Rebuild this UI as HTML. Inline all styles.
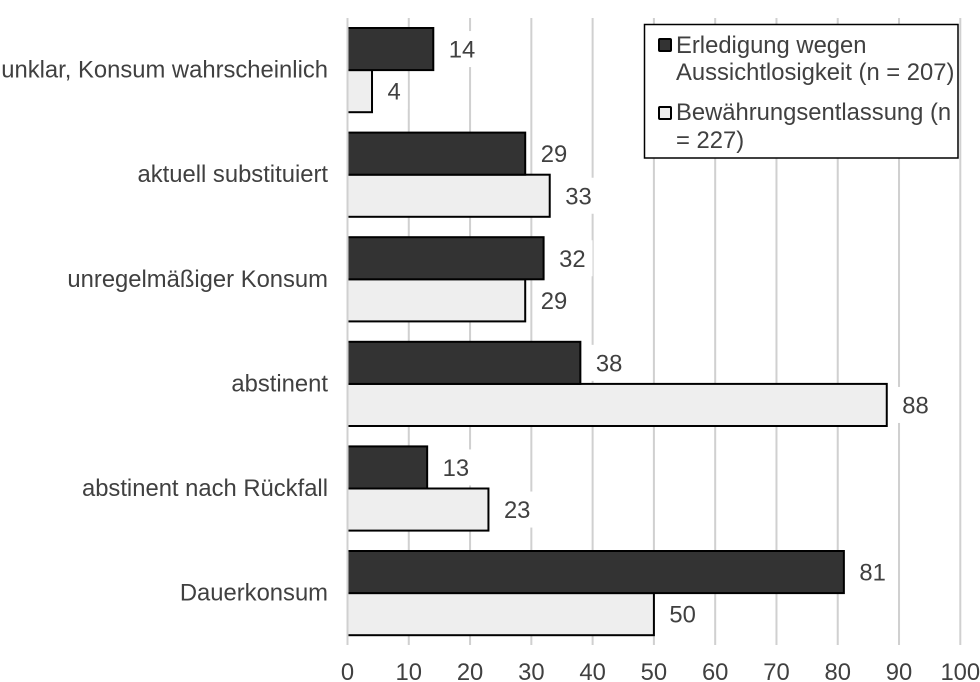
<!DOCTYPE html>
<html lang="de">
<head>
<meta charset="utf-8">
<title>Balkendiagramm</title>
<style>
html,body{margin:0;padding:0;background:#fff;}
svg{display:block;}
text{font-family:"Liberation Sans",Arial,sans-serif;font-size:23.8px;fill:#404040;}
</style>
</head>
<body>
<svg id="chart" width="980" height="682" viewBox="0 0 980 682">
  <g id="grid"></g>
  <g id="bars"></g>
  <g id="labels"></g>
  <g id="axis"></g>
  <g>
    <rect x="644.5" y="24.5" width="313.5" height="133.5" fill="#fff" stroke="#000" stroke-width="1.5"></rect>
    <rect x="659" y="39" width="12" height="12" rx="1" fill="#333" stroke="#000" stroke-width="2"></rect>
    <text x="676" y="53">Erledigung wegen</text>
    <text x="676" y="80">Aussichtlosigkeit (n = 207)</text>
    <rect x="659" y="107" width="12" height="12" rx="1" fill="#eee" stroke="#000" stroke-width="2"></rect>
    <text x="676" y="120">Bewährungsentlassung (n</text>
    <text x="676" y="148">= 227)</text>
  </g>
</svg>
<script>
const categories = ["unklar, Konsum wahrscheinlich", "aktuell substituiert", "unregelmäßiger Konsum", "abstinent", "abstinent nach Rückfall", "Dauerkonsum"];
const erledigungValues = [14, 29, 32, 38, 13, 81];
const bewaehrungValues = [4, 33, 29, 88, 23, 50];
const xTicks = [0, 10, 20, 30, 40, 50, 60, 70, 80, 90, 100];

const NS = "http://www.w3.org/2000/svg";
const xMin = xTicks[0];
const xMax = xTicks[xTicks.length - 1];
const plotLeft = 347.5;
const plotRight = 960.3;
const plotTop = 18;
const plotBottom = 645;
const bandTop = 28;
const bandStep = 104.6;
const barHeight = 42.1;

function xScale(v) {
  return plotLeft + (v - xMin) / (xMax - xMin) * (plotRight - plotLeft);
}
function bandY(i) {
  return bandTop + i * bandStep;
}
function make(parent, tag, attrs, text) {
  const el = document.createElementNS(NS, tag);
  for (const k in attrs) el.setAttribute(k, attrs[k]);
  if (text !== undefined) el.textContent = text;
  parent.appendChild(el);
  return el;
}

const gridG = document.getElementById("grid");
const barsG = document.getElementById("bars");
const labelsG = document.getElementById("labels");
const axisG = document.getElementById("axis");

xTicks.forEach(function (t) {
  const line = make(gridG, "line", {x1: xScale(t), x2: xScale(t), y1: plotTop, y2: plotBottom, stroke: "#d0d0d0", "stroke-width": 2});
  
  
  const label = make(axisG, "text", {x: xScale(t), y: 680, "text-anchor": "middle"}, String(t));
  
  
});

function drawBar(value, y, fill) {
  const bar = make(barsG, "rect", {x: xScale(0), y: y, width: xScale(value) - xScale(0), height: barHeight, fill: fill, stroke: "#000", "stroke-width": 2});
  
  
}
function drawValue(value, y) {
  const s = String(value);
  const w = s.length * 13.2;
  const left = xScale(value) + 15.5;
  const bg = make(labelsG, "rect", {x: left - 7, y: y + barHeight / 2 - 18, width: w + 14, height: 36, fill: "#fff"});
  
  
  const label = make(labelsG, "text", {x: left, y: y + barHeight / 2 + 8.5}, s);
  
  
}

categories.forEach(function (c, i) {
  const y = bandY(i);
  const cat = make(axisG, "text", {x: 328, y: y + barHeight + 7.5, "text-anchor": "end"}, c);
  
  
  drawValue(erledigungValues[i], y);
  drawValue(bewaehrungValues[i], y + barHeight);
});
categories.forEach(function (c, i) {
  const y = bandY(i);
  drawBar(bewaehrungValues[i], y + barHeight, "#eeeeee");
  drawBar(erledigungValues[i], y, "#333333");
});

const zeroLine = make(barsG, "line", {x1: xScale(0), x2: xScale(0), y1: plotTop, y2: plotBottom, stroke: "#d0d0d0", "stroke-width": 2});


</script>
</body>
</html>
